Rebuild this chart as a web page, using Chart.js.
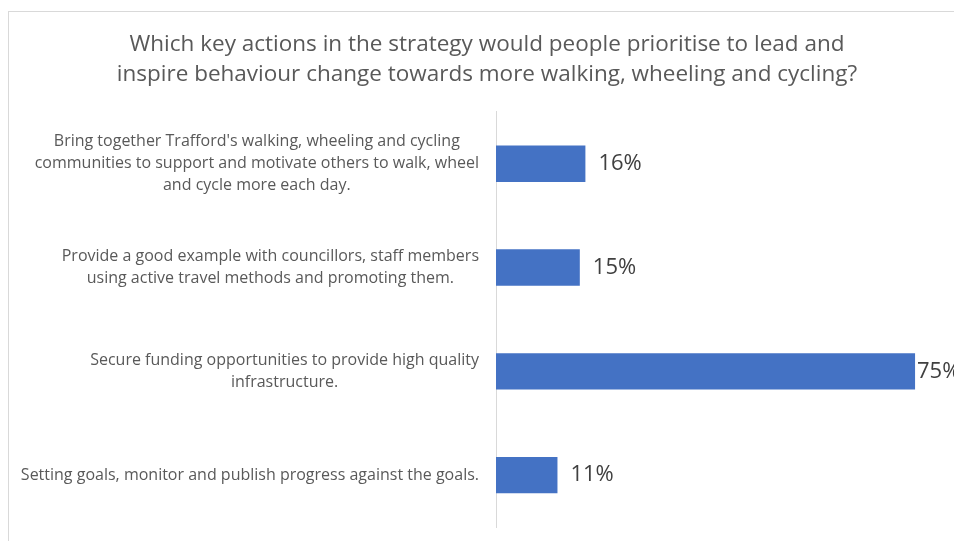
<!DOCTYPE html>
<html>
<head>
<meta charset="utf-8">
<script src="https://cdn.jsdelivr.net/npm/chart.js@4.4.1/dist/chart.umd.min.js"></script>
<style>
  html, body { margin: 0; padding: 0; background: #fff; }
  #wrap { position: relative; width: 954px; height: 541px; }
</style>
</head>
<body>
<div id="wrap"><canvas id="chart"></canvas></div>
<script>
const TITLE_LINES = [
  'Which key actions in the strategy would people prioritise to lead and',
  'inspire behaviour change towards more walking, wheeling and cycling?',
];

// each category is pre-wrapped the way the labels should appear
const categories = [
  [
    "Bring together Trafford's walking, wheeling and cycling",
    'communities to support and motivate others to walk, wheel',
    'and cycle more each day.',
  ],
  [
    'Provide a good example with councillors, staff members',
    'using active travel methods and promoting them.',
  ],
  [
    'Secure funding opportunities to provide high quality',
    'infrastructure.',
  ],
  ['Setting goals, monitor and publish progress against the goals.'],
];

const percentages = [16, 15, 75, 11];

const FONT = '"Open Sans", "Noto Sans", sans-serif';
const TEXT_COLOR = '#595959';
const BAR_COLOR = '#4472C4';
const LINE_COLOR = '#d9d9d9';

// White background plus the outer frame of the chart box
const framePlugin = {
  id: 'frame',
  beforeDraw(chart) {
    const ctx = chart.ctx;
    ctx.save();
    ctx.fillStyle = '#fff';
    ctx.fillRect(0, 0, chart.width, chart.height);
    ctx.strokeStyle = LINE_COLOR;
    ctx.lineWidth = 1;
    ctx.strokeRect(8.5, 11.5, chart.width + 20, chart.height + 20);
    ctx.restore();
  },
};

// Category labels: block right-aligned against the axis, lines centred inside the block
const categoryLabelPlugin = {
  id: 'categoryLabels',
  afterDraw(chart) {
    const ctx = chart.ctx;
    const yScale = chart.scales.y;
    const right = yScale.right - 17;
    const lineHeight = 22;

    ctx.save();
    ctx.font = `16px ${FONT}`;
    ctx.fillStyle = TEXT_COLOR;
    ctx.textAlign = 'center';
    ctx.textBaseline = 'middle';

    categories.forEach((lines, i) => {
      const y = yScale.getPixelForTick(i);
      const blockWidth = Math.max(...lines.map((l) => ctx.measureText(l).width));
      const cx = right - blockWidth / 2;
      const top = y - ((lines.length - 1) * lineHeight) / 2;
      lines.forEach((line, j) => {
        ctx.fillText(line, cx, top + j * lineHeight);
      });
    });
    ctx.restore();
  },
};

// Percentage labels just past the end of each bar
const valueLabelPlugin = {
  id: 'valueLabels',
  afterDatasetsDraw(chart) {
    const ctx = chart.ctx;
    const meta = chart.getDatasetMeta(0);
    const area = chart.chartArea;

    ctx.save();
    ctx.font = `22px ${FONT}`;
    ctx.fillStyle = '#404040';
    ctx.textAlign = 'left';
    ctx.textBaseline = 'middle';
    meta.data.forEach((bar, i) => {
      const x = Math.min(bar.x + 13, area.right - 26);
      ctx.fillText(`${percentages[i]}%`, x, bar.y);
    });
    ctx.restore();
  },
};

new Chart(document.getElementById('chart'), {
  type: 'bar',
  data: {
    labels: categories,
    datasets: [
      {
        data: percentages,
        backgroundColor: BAR_COLOR,
        borderWidth: 0,
        barPercentage: 0.35,
        categoryPercentage: 1,
      },
    ],
  },
  options: {
    indexAxis: 'y',
    responsive: true,
    maintainAspectRatio: false,
    animation: false,
    layout: {
      padding: { left: 31, right: 11, top: 0, bottom: 14 },
    },
    plugins: {
      legend: { display: false },
      tooltip: { enabled: false },
      title: {
        display: true,
        text: TITLE_LINES,
        color: TEXT_COLOR,
        font: { family: FONT, size: 22.5, weight: 'normal', lineHeight: 1.33 },
        padding: { top: 30, bottom: 22 },
      },
    },
    scales: {
      x: {
        display: false,
        min: 0,
        max: 80,
      },
      y: {
        afterFit(scale) {
          scale.width = 496 - 31;
        },
        border: { display: true, color: LINE_COLOR, width: 1 },
        grid: { display: false },
        ticks: { display: false },
      },
    },
  },
  plugins: [framePlugin, categoryLabelPlugin, valueLabelPlugin],
});
</script>
</body>
</html>
